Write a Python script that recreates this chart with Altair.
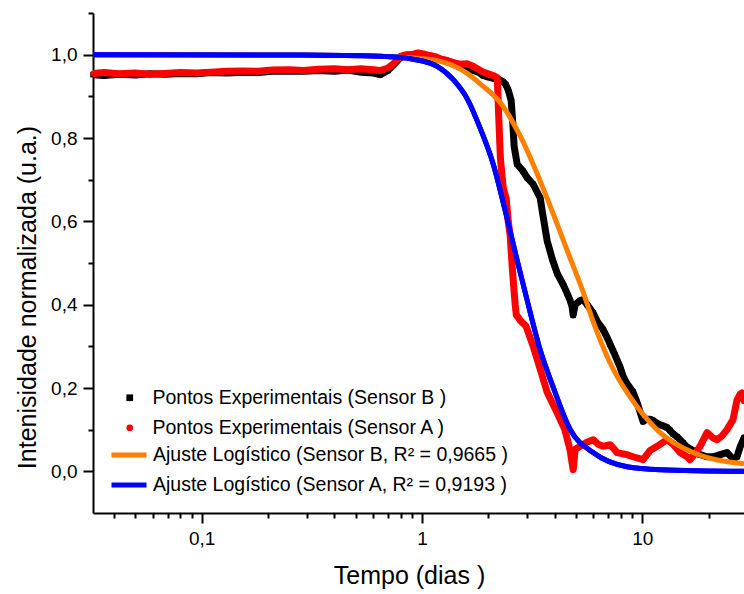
import altair as alt
import pandas as pd

FONT = "Liberation Sans, Arial, sans-serif"

LAB_PB = "Pontos Experimentais (Sensor B )"
LAB_PA = "Pontos Experimentais (Sensor A )"
LAB_FB = "Ajuste Logístico (Sensor B, R² = 0,9665 )"
LAB_FA = "Ajuste Logístico (Sensor A, R² = 0,9193 )"

X_TITLE = "Tempo (dias )"
Y_TITLE = "Intenisidade normalizada (u.a.)"

x_major = [0.1, 1, 10]
x_minor = [0.04, 0.05, 0.06, 0.07, 0.08, 0.09, 0.2, 0.3, 0.4, 0.5, 0.6, 0.7, 0.8, 0.9,
           2, 3, 4, 5, 6, 7, 8, 9, 20]
y_major = [0.0, 0.2, 0.4, 0.6, 0.8, 1.0]
y_minor = [0.1, 0.3, 0.5, 0.7, 0.9, 1.1]

# Sensor B experimental points (black)
b_t = [0.0321, 0.036, 0.042, 0.05, 0.058, 0.068, 0.08, 0.095, 0.11, 0.13, 0.155, 0.18, 0.21,
       0.25, 0.29, 0.34, 0.40, 0.46, 0.53, 0.60, 0.647, 0.70, 0.741, 0.797, 0.85, 0.913, 0.96,
       1.014, 1.08, 1.15, 1.211, 1.30, 1.40, 1.492, 1.60, 1.709, 1.80, 1.897, 2.0, 2.15, 2.25,
       2.337, 2.40, 2.463, 2.54, 2.58, 2.62, 2.705, 2.88, 3.0, 3.197, 3.44, 3.513, 3.70, 3.90,
       4.109, 4.40, 4.56, 4.705, 4.80, 4.856, 4.958, 5.224, 5.39, 5.62, 5.983, 6.237, 6.642,
       6.926, 7.145, 7.50, 7.931, 8.183, 8.531, 9.085, 9.472, 10.08, 10.5, 10.85, 11.19, 11.67,
       12.3, 12.96, 13.37, 13.8, 14.38, 15.31, 15.96, 17.0, 18.29, 19.67, 20.95, 22.54, 24.24,
       25.81, 26.91, 27.77, 28.95]
b_v = [0.952, 0.950, 0.953, 0.951, 0.954, 0.953, 0.955, 0.954, 0.957, 0.956, 0.958, 0.957, 0.960,
       0.961, 0.960, 0.962, 0.960, 0.963, 0.958, 0.956, 0.952, 0.962, 0.975, 0.993, 0.998, 1.000,
       1.002, 0.999, 0.996, 0.992, 0.988, 0.985, 0.980, 0.972, 0.968, 0.962, 0.958, 0.950, 0.946,
       0.942, 0.940, 0.935, 0.928, 0.915, 0.89, 0.84, 0.78, 0.737, 0.72, 0.705, 0.689, 0.656,
       0.625, 0.553, 0.51, 0.475, 0.445, 0.427, 0.41, 0.395, 0.375, 0.40, 0.41, 0.412, 0.40, 0.38,
       0.36, 0.34, 0.321, 0.305, 0.28, 0.25, 0.228, 0.21, 0.19, 0.165, 0.12, 0.125, 0.125, 0.122,
       0.115, 0.11, 0.105, 0.098, 0.09, 0.083, 0.068, 0.058, 0.05, 0.04, 0.035, 0.035, 0.04, 0.045,
       0.03, 0.035, 0.058, 0.08]

# Sensor A experimental points (red)
a_t = [0.0321, 0.036, 0.042, 0.05, 0.058, 0.068, 0.08, 0.095, 0.11, 0.13, 0.155, 0.18, 0.21,
       0.25, 0.29, 0.34, 0.40, 0.46, 0.53, 0.60, 0.647, 0.70, 0.741, 0.797, 0.85, 0.913, 0.96,
       1.014, 1.08, 1.15, 1.211, 1.30, 1.40, 1.492, 1.60, 1.709, 1.80, 1.897, 2.0, 2.10, 2.196,
       2.23, 2.27, 2.337, 2.41, 2.463, 2.514, 2.568, 2.62, 2.649, 2.68, 2.73, 2.79, 2.97, 3.197,
       3.44, 3.70, 4.109, 4.45, 4.705, 4.80, 4.856, 4.91, 4.958, 5.224, 5.6, 5.983, 6.3, 6.642,
       7.145, 7.4, 7.686, 8.5, 9.085, 10.08, 10.85, 11.67, 12.96, 13.8, 14.84, 15.96, 16.47, 17.5,
       18.29, 19.67, 20.95, 21.84, 23.0, 24.24, 25.81, 26.4, 26.91, 27.77, 28.35, 28.95]
a_v = [0.955, 0.957, 0.954, 0.956, 0.953, 0.955, 0.957, 0.956, 0.958, 0.960, 0.961, 0.960, 0.963,
       0.964, 0.962, 0.965, 0.966, 0.964, 0.966, 0.964, 0.962, 0.968, 0.978, 0.996, 1.0, 1.001,
       1.004, 1.002, 0.998, 0.995, 0.99, 0.986, 0.980, 0.977, 0.978, 0.972, 0.965, 0.958, 0.954,
       0.95, 0.945, 0.85, 0.75, 0.68, 0.655, 0.60, 0.565, 0.49, 0.43, 0.40, 0.375, 0.37, 0.362,
       0.348, 0.30, 0.245, 0.19, 0.14, 0.10, 0.05, 0.02, 0.004, 0.03, 0.053, 0.06, 0.07, 0.076,
       0.065, 0.06, 0.064, 0.055, 0.045, 0.04, 0.035, 0.028, 0.05, 0.06, 0.076, 0.065, 0.045,
       0.035, 0.028, 0.045, 0.06, 0.093, 0.08, 0.076, 0.085, 0.1, 0.124, 0.15, 0.171, 0.185,
       0.188, 0.17]

# Logistic fit, Sensor B (orange)
fb_t = [0.0321, 0.3, 0.647, 0.913, 1.21, 1.605, 1.838, 2.265, 2.79, 3.70, 4.56, 5.39, 5.98,
        7.145, 9.47, 12.04, 17.0, 28.95]
fb_v = [1.0, 0.999, 0.996, 0.992, 0.984, 0.955, 0.93, 0.885, 0.805, 0.655, 0.53, 0.43, 0.36,
        0.26, 0.155, 0.093, 0.045, 0.018]

# Logistic fit, Sensor A (blue)
fa_t = [0.0321, 0.281, 0.647, 0.913, 1.173, 1.387, 1.605, 1.838, 2.106, 2.387, 2.705, 3.003,
        3.44, 3.94, 4.71, 5.98, 8.53, 12.05, 28.95]
fa_v = [1.0, 0.999, 0.996, 0.989, 0.972, 0.94, 0.894, 0.823, 0.737, 0.625, 0.506, 0.41, 0.291,
        0.202, 0.1, 0.045, 0.011, 0.004, 0.0]

exp_b = pd.DataFrame({"t": b_t, "v": b_v, "serie": LAB_PB})
exp_a = pd.DataFrame({"t": a_t, "v": a_v, "serie": LAB_PA})
exp_all = pd.concat([exp_b, exp_a], ignore_index=True)
fits = pd.concat([
    pd.DataFrame({"t": fb_t, "v": fb_v, "fit": LAB_FB}),
    pd.DataFrame({"t": fa_t, "v": fa_v, "fit": LAB_FA}),
], ignore_index=True)
fit_a = pd.DataFrame({"t": fa_t, "v": fa_v})

xscale = alt.Scale(type="log", domain=[0.0321, 28.95], nice=False)
yscale = alt.Scale(domain=[-0.1, 1.1], nice=False, zero=False)

common_axis = dict(domainColor="black", tickColor="black", tickWidth=2, domainWidth=2,
                   grid=False, labelFont=FONT, labelFontSize=19, labelColor="black",
                   titleFont=FONT, titleFontSize=25, titleFontWeight="normal",
                   titleColor="black", labelFlush=False, labelOverlap=False)

x_major_axis = alt.Axis(values=x_major, orient="bottom", tickSize=10, labelPadding=6,
                        labelExpr="replace(format(datum.value, '~g'), '.', ',')",
                        title=X_TITLE, titleX=316, titleY=70, titleAlign="center",
                        titleBaseline="alphabetic", **common_axis)
y_major_axis = alt.Axis(values=y_major, orient="left", tickSize=10, labelPadding=6,
                        labelExpr="replace(format(datum.value, '.1f'), '.', ',')",
                        title=Y_TITLE, titleX=-58, titleY=284, titleAngle=270,
                        titleAlign="center", titleBaseline="alphabetic", **common_axis)
x_minor_axis = alt.Axis(values=x_minor, orient="bottom", tickSize=5, labels=False,
                        domain=False, title=None, tickColor="black", tickWidth=2, grid=False)
y_minor_axis = alt.Axis(values=y_minor, orient="left", tickSize=5, labels=False,
                        domain=False, title=None, tickColor="black", tickWidth=2, grid=False)

legend_common = dict(orient="none", title=None, labelFont=FONT, labelFontSize=19.5,
                     labelColor="black", labelLimit=1000, padding=0)

pt_legend = dict(legendX=27, legendY=375, symbolSize=45, symbolStrokeWidth=0,
                 labelOffset=13, rowPadding=9, **legend_common)

points = alt.Chart(exp_all).mark_point(filled=True, size=30, opacity=1).encode(
    x=alt.X("t:Q", scale=xscale, axis=x_major_axis),
    y=alt.Y("v:Q", scale=yscale, axis=y_major_axis),
    color=alt.Color("serie:N", scale=alt.Scale(domain=[LAB_PB, LAB_PA], range=["#000000", "#ff0000"]),
                    legend=alt.Legend(**pt_legend)),
    shape=alt.Shape("serie:N", scale=alt.Scale(domain=[LAB_PB, LAB_PA], range=["square", "circle"]),
                    legend=alt.Legend(**pt_legend)),
)

line_b = alt.Chart(exp_b).mark_line(color="#000000", strokeWidth=7, clip=True,
                                    strokeCap="round", strokeJoin="round").encode(
    x=alt.X("t:Q", scale=xscale, axis=x_minor_axis),
    y=alt.Y("v:Q", scale=yscale, axis=y_minor_axis),
)
line_a = alt.Chart(exp_a).mark_line(color="#ff0000", strokeWidth=7, clip=True,
                                    strokeCap="round", strokeJoin="round").encode(
    x=alt.X("t:Q", scale=xscale, axis=None),
    y=alt.Y("v:Q", scale=yscale, axis=None),
)
fit_lines = alt.Chart(fits).mark_line(strokeWidth=5, clip=True, interpolate="monotone").encode(
    x=alt.X("t:Q", scale=xscale, axis=None),
    y=alt.Y("v:Q", scale=yscale, axis=None),
    color=alt.Color("fit:N", scale=alt.Scale(domain=[LAB_FB, LAB_FA], range=["#ff8000", "#0000ff"]),
                    legend=alt.Legend(legendX=16, legendY=422, symbolType="stroke", symbolSize=1225,
                                      symbolStrokeWidth=5, labelOffset=4, rowPadding=0,
                                      **legend_common)),
)
fit_a_top = alt.Chart(fit_a).mark_line(color="#0000ff", strokeWidth=5, clip=True,
                                       interpolate="monotone").encode(
    x=alt.X("t:Q", scale=xscale, axis=None),
    y=alt.Y("v:Q", scale=yscale, axis=None),
)

chart = alt.layer(points, line_b, line_a, fit_lines, fit_a_top).resolve_scale(
    color="independent", shape="independent"
).resolve_axis(
    x="independent", y="independent"
).properties(
    width=651, height=500,
    padding={"left": 93, "top": 13, "right": 0, "bottom": 81},
    autosize=alt.AutoSizeParams(type="none"),
    background="white",
).configure_view(stroke="transparent")

chart.save("out.html", embed_options={"renderer": "svg", "actions": False})
